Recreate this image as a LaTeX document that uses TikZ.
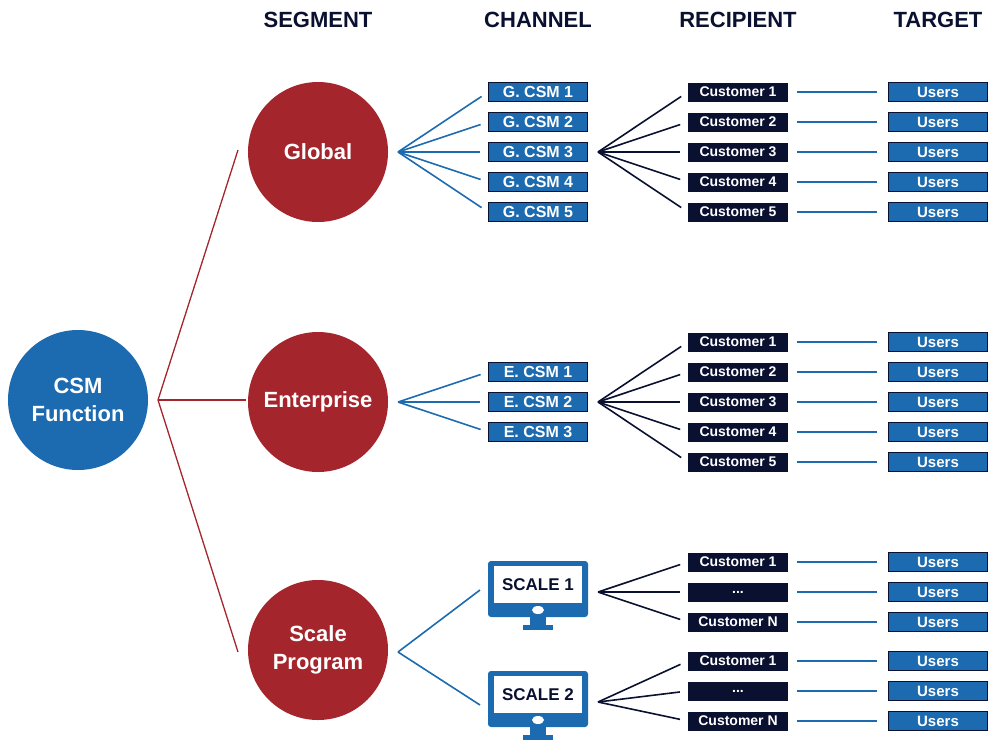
\documentclass[tikz,border=0pt]{standalone}
\usepackage{fontspec}
\setmainfont{Liberation Sans}
\usetikzlibrary{positioning}
\definecolor{csmblue}{HTML}{1C6AAF}
\definecolor{segred}{HTML}{A4262C}
\definecolor{navy}{HTML}{0A1030}
\newcommand{\dotstxt}{...}
\tikzset{
  head/.style={font=\bfseries\fontsize{22}{22}\selectfont, text=navy},
  bigdot/.style={circle, minimum size=140pt, inner sep=0pt, align=center,
    text=white, font=\bfseries\fontsize{22}{28}\selectfont},
  chan/.style={fill=csmblue, draw=navy, line width=0.6pt, minimum width=99pt,
    minimum height=19pt, inner sep=0pt, text=white, font=\bfseries\fontsize{16}{16}\selectfont},
  cust/.style={fill=navy, minimum width=100pt, minimum height=19pt, inner sep=0pt,
    text=white, font=\bfseries\fontsize{14}{14}\selectfont},
  user/.style={chan, font=\bfseries\fontsize{15}{15}\selectfont},
  redline/.style={segred, line width=1.3pt},
  blueline/.style={csmblue, line width=1.6pt},
  navyline/.style={navy, line width=1.6pt}
}
\begin{document}
\begin{tikzpicture}[x=1pt, y=-1pt]
  \useasboundingbox (0,0) rectangle (1000,750);
  % headers
  \foreach \x/\t in {318/SEGMENT, 538/CHANNEL, 738/RECIPIENT, 938/TARGET} {%
    \node[head] at (\x,20) {\t};
  }
  % circles
  \node[bigdot, fill=csmblue] (csm) at (78,400) {CSM\\Function};
  \node[bigdot, fill=segred] (global) at (318,152) {Global};
  \node[bigdot, fill=segred] (ent) at (318,402) {Enterprise};
  \node[bigdot, fill=segred] (scale) at (318,650) {Scale\\Program};
  \coordinate (hub) at (158,400);
  \draw[redline] (hub) -- (238,150);
  \draw[redline] (hub) -- (246,400);
  \draw[redline] (hub) -- (238,652);
  % global channel
  \coordinate (ghub) at (398,152);
  \coordinate (gchub) at (598,152);
  \foreach \i in {1,...,5} {%
    \pgfmathsetmacro{\y}{62+30*\i}
    \node[chan] (g\i) at (538,\y) {G. CSM \i};
    \node[cust] (gc\i) at (738,\y) {Customer \i};
    \node[user] (gu\i) at (938,\y) {Users};
    \draw[blueline, shorten >=8pt] (ghub) -- (g\i.west);
    \draw[navyline, shorten >=8pt] (gchub) -- (gc\i.west);
    \draw[blueline, shorten <=9pt, shorten >=11pt] (gc\i.east) -- (gu\i.west);
  }
  % enterprise channel
  \coordinate (ehub) at (398,402);
  \coordinate (echub) at (598,402);
  \foreach \i in {1,2,3} {%
    \pgfmathsetmacro{\y}{342+30*\i}
    \node[chan] (e\i) at (538,\y) {E. CSM \i};
    \draw[blueline, shorten >=8pt] (ehub) -- (e\i.west);
  }
  \foreach \i in {1,...,5} {%
    \pgfmathsetmacro{\y}{312+30*\i}
    \node[cust] (ec\i) at (738,\y) {Customer \i};
    \node[user] (eu\i) at (938,\y) {Users};
    \draw[navyline, shorten >=8pt] (echub) -- (ec\i.west);
    \draw[blueline, shorten <=9pt, shorten >=11pt] (ec\i.east) -- (eu\i.west);
  }
  % scale program
  \coordinate (shub) at (398,652);
  \foreach \n/\y in {1/585, 2/695} {%
    \begin{scope}[shift={(538,\y)}]
      \fill[csmblue, rounded corners=3pt] (-50,-24) rectangle (50,32);
      \fill[white] (-44,-19) rectangle (44,18);
      \fill[white] (0,25) ellipse (6pt and 4pt);
      \fill[csmblue] (-8,32) rectangle (8,41);
      \fill[csmblue] (-15,40) rectangle (15,45);
    \end{scope}
    \node[font=\bfseries\fontsize{17}{17}\selectfont, text=navy] (s\n) at (538,\y) {SCALE \n};
    \coordinate (sh\n) at (598,\y+7);
  }
  \draw[blueline] (shub) -- (480,590);
  \draw[blueline] (shub) -- (480,705);
  \foreach \n/\y in {1/562, 2/661} {%
    \foreach \j/\t in {0/Customer 1, 1/\dotstxt, 2/Customer N} {%
      \pgfmathsetmacro{\yy}{\y+30*\j}
      \node[cust] (sc\n\j) at (738,\yy) {\t};
      \node[user] (su\n\j) at (938,\yy) {Users};
      \draw[navyline, shorten >=8pt] (sh\n) -- (sc\n\j.west);
      \draw[blueline, shorten <=9pt, shorten >=11pt] (sc\n\j.east) -- (su\n\j.west);
    }
  }
\end{tikzpicture}
\end{document}
